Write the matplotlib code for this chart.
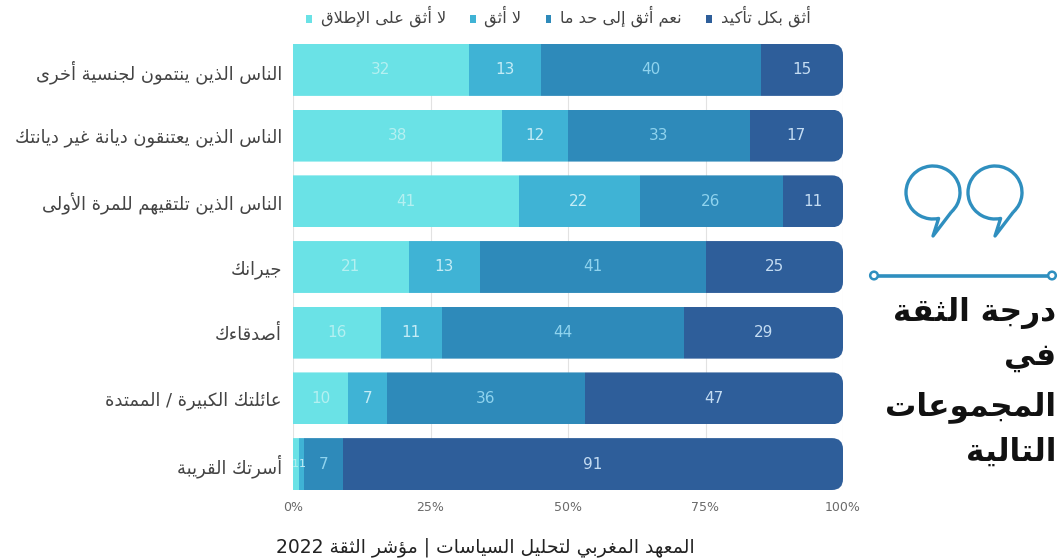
import re
import numpy as np
import matplotlib
matplotlib.use("Agg")
import matplotlib.pyplot as plt
from matplotlib.patches import FancyBboxPatch, PathPatch, Circle
from matplotlib.path import Path

# matplotlib has no Arabic shaping, so letters are mapped to presentation forms
FORMS = {
    'ء': (0xFE80, 1), 'آ': (0xFE81, 2), 'أ': (0xFE83, 2), 'ؤ': (0xFE85, 2),
    'إ': (0xFE87, 2), 'ئ': (0xFE89, 4), 'ا': (0xFE8D, 2), 'ب': (0xFE8F, 4),
    'ة': (0xFE93, 2), 'ت': (0xFE95, 4), 'ث': (0xFE99, 4), 'ج': (0xFE9D, 4),
    'ح': (0xFEA1, 4), 'خ': (0xFEA5, 4), 'د': (0xFEA9, 2), 'ذ': (0xFEAB, 2),
    'ر': (0xFEAD, 2), 'ز': (0xFEAF, 2), 'س': (0xFEB1, 4), 'ش': (0xFEB5, 4),
    'ص': (0xFEB9, 4), 'ض': (0xFEBD, 4), 'ط': (0xFEC1, 4), 'ظ': (0xFEC5, 4),
    'ع': (0xFEC9, 4), 'غ': (0xFECD, 4), 'ف': (0xFED1, 4), 'ق': (0xFED5, 4),
    'ك': (0xFED9, 4), 'ل': (0xFEDD, 4), 'م': (0xFEE1, 4), 'ن': (0xFEE5, 4),
    'ه': (0xFEE9, 4), 'و': (0xFEED, 2), 'ى': (0xFEEF, 2), 'ي': (0xFEF1, 4),
}
LAM_ALEF = {'آ': 0xFEF5, 'أ': 0xFEF7, 'إ': 0xFEF9, 'ا': 0xFEFB}


def ar(text):
    out = []
    prev_joins = False
    i = 0
    while i < len(text):
        ch = text[i]
        if ch not in FORMS:
            out.append(ch)
            prev_joins = False
            i += 1
            continue
        nxt = text[i + 1] if i + 1 < len(text) else ''
        if ch == 'ل' and nxt in LAM_ALEF:
            out.append(chr(LAM_ALEF[nxt] + (1 if prev_joins else 0)))
            prev_joins = False
            i += 2
            continue
        base, n = FORMS[ch]
        next_ok = nxt in FORMS
        if n == 1:
            form = 0
        elif n == 2:
            form = 1 if prev_joins else 0
        elif prev_joins:
            form = 3 if next_ok else 1
        else:
            form = 2 if next_ok else 0
        out.append(chr(base + form))
        prev_joins = n == 4
        i += 1
    # visual order, digit runs stay left to right
    visual = ''.join(out)[::-1]
    return re.sub(r'\d+', lambda m: m.group(0)[::-1], visual)


groups = [
    'الناس الذين ينتمون لجنسية أخرى',
    'الناس الذين يعتنقون ديانة غير ديانتك',
    'الناس الذين تلتقيهم للمرة الأولى',
    'جيرانك',
    'أصدقاءك',
    'عائلتك الكبيرة / الممتدة',
    'أسرتك القريبة',
]
not_at_all = [32, 38, 41, 21, 16, 10, 1]
no_trust = [13, 12, 22, 13, 11, 7, 1]
somewhat = [40, 33, 26, 41, 44, 36, 7]
fully = [15, 17, 11, 25, 29, 47, 91]

series_names = ['لا أثق على الإطلاق', 'لا أثق', 'نعم أثق إلى حد ما', 'أثق بكل تأكيد']
series_values = [not_at_all, no_trust, somewhat, fully]
colors = ['#6ae2e6', '#3fb3d5', '#2e8aba', '#2e5e9a']
label_colors = ['#b4f0f1', '#c4ecf6', '#8fd3ee', '#c4dcf2']
x_ticks = [0, 25, 50, 75, 100]
x_labels = ['0%', '25%', '50%', '75%', '100%']

title_lines = ['درجة الثقة', 'في', 'المجموعات', 'التالية']
source = 'المعهد المغربي لتحليل السياسات | مؤشر الثقة 2022'

W, H = 1061, 560
FONT = 'DejaVu Sans'

fig = plt.figure(figsize=(W / 100, H / 100), dpi=100, facecolor='white')
ax = fig.add_axes([293 / W, 1 - 490 / H, 550 / W, 446 / H])

y = np.arange(len(groups))
bar_h = 0.79
# x units per pixel against y units per pixel, keeps the corners circular
corner_aspect = (550 / 100) / (446 / (len(groups) - 1 + bar_h))
left = np.zeros(len(groups))
handles = []
for k, (name, vals, col, lab_col) in enumerate(zip(series_names, series_values, colors, label_colors)):
    vals = np.array(vals)
    bars = ax.barh(y, vals, left=left, height=bar_h, color=col, label=ar(name), zorder=3)
    handles.append(bars)
    for rect, v, yy in zip(bars, vals, y):
        # clip to a box with rounded ends so only the right side of each row is curved
        clip = FancyBboxPatch((-12, yy - bar_h / 2), 112, bar_h,
                              boxstyle='round,pad=0,rounding_size=2',
                              mutation_aspect=corner_aspect,
                              transform=ax.transData)
        rect.set_clip_path(clip)
        if v > 1:
            ax.text(rect.get_x() + v / 2, yy, str(v), ha='center', va='center',
                    color=lab_col, fontsize=11, family=FONT, zorder=4)
        elif k == 0:
            # the two thinnest segments meet at their shared edge
            ax.text(rect.get_x() + v - 0.03, yy, str(v), ha='right', va='center',
                    color=lab_col, fontsize=8, family=FONT, zorder=4)
        else:
            ax.text(rect.get_x() + 0.03, yy, str(v), ha='left', va='center',
                    color=lab_col, fontsize=8, family=FONT, zorder=4)
    left = left + vals

ax.set_xlim(0, 100)
ax.set_ylim(len(groups) - 1 + bar_h / 2, -bar_h / 2)
ax.set_xticks(x_ticks)
ax.set_xticklabels(x_labels, color='#6a6a6a', fontsize=9, family=FONT)
ax.set_yticks(y)
ax.set_yticklabels([ar(g) for g in groups], color='#444444', fontsize=12.9, family=FONT,
                   va='center_baseline')
ax.tick_params(axis='both', length=0)
ax.tick_params(axis='x', pad=8)
ax.tick_params(axis='y', pad=8)
ax.grid(axis='x', color='#e2e2e2', lw=0.8, zorder=0)
ax.set_axisbelow(True)
for s in ax.spines.values():
    s.set_visible(False)

leg = ax.legend(handles=[h[0] for h in handles], labels=[ar(n) for n in series_names],
                ncol=4, loc='lower center', bbox_to_anchor=(0.482, 1.0), frameon=False,
                handlelength=0.35, handleheight=0.35, handletextpad=0.55, columnspacing=1.48,
                prop={'family': FONT, 'size': 11.7}, labelcolor='#444444',
                borderpad=0.2, borderaxespad=0.85)
for patch in leg.get_patches():
    patch.set_y(0)

# side panel, drawn in pixel coordinates
side = fig.add_axes([0, 0, 1, 1], facecolor='none')
side.set_xlim(0, W)
side.set_ylim(H, 0)
side.axis('off')

ICON = '#2f8fbf'
for cx, tip_x in [(933, 933), (995, 995)]:
    arc = Path.arc(-47, 282)
    verts = arc.vertices * np.array([27, -26.5]) + np.array([cx, 192.5])
    verts = np.vstack([verts, [tip_x, 236], verts[0]])
    codes = list(arc.codes) + [Path.LINETO, Path.LINETO]
    side.add_patch(PathPatch(Path(verts, codes), fill=False, edgecolor=ICON, lw=2.4,
                             joinstyle='round'))

side.plot([878, 1048], [275.5, 275.5], color=ICON, lw=2.6, solid_capstyle='butt')
for px in (874, 1052):
    side.add_patch(Circle((px, 275.5), 3.8, facecolor='white', edgecolor=ICON, lw=1.8, zorder=3))

for line, py in zip(title_lines, [313, 358, 407, 452]):
    side.text(1056, py, ar(line), ha='right', va='center', fontsize=22.5,
              fontweight='bold', family=FONT, color='#111111')

side.text(695, 547, ar(source), ha='right', va='center', fontsize=13.5,
          family=FONT, color='#222222')

fig.savefig('out.png', dpi=100)
